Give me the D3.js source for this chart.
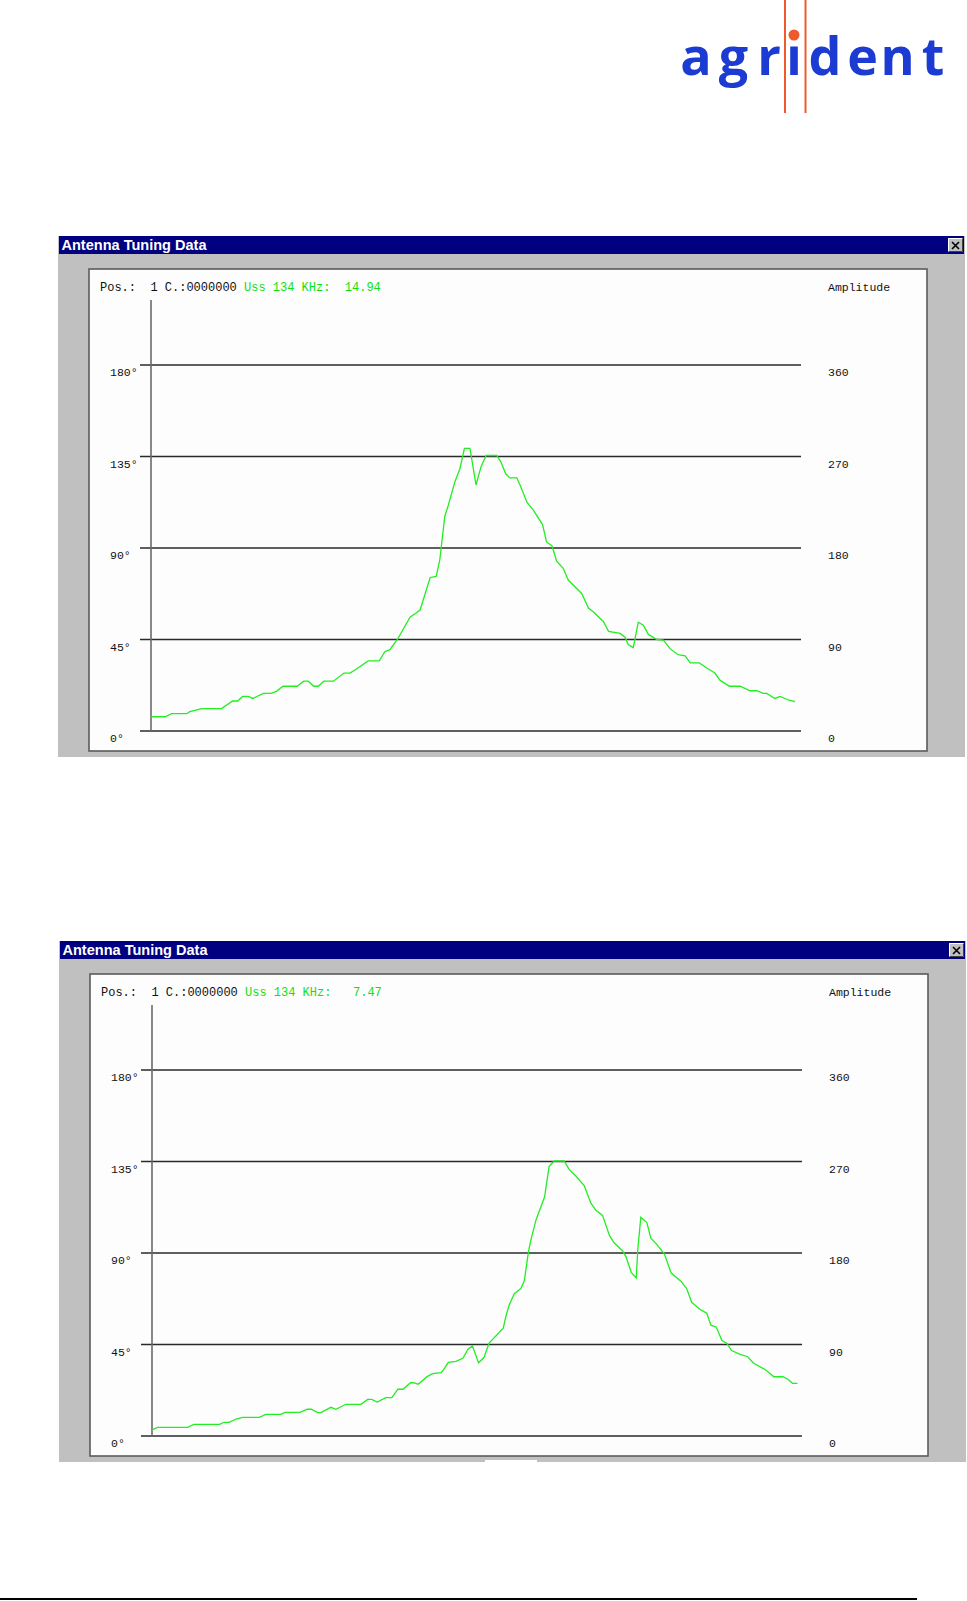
<!DOCTYPE html>
<html>
<head>
<meta charset="utf-8">
<script src="https://cdn.jsdelivr.net/npm/d3@7/dist/d3.min.js"></script>
<style>
  html, body { margin: 0; padding: 0; background: #ffffff; }
  svg { display: block; }
  .mono { font-family: "Liberation Mono", "DejaVu Sans Mono", monospace; white-space: pre; }
</style>
</head>
<body>
<svg id="page" width="967" height="1601"></svg>
<script>
// ---------------- DATA ----------------
// Sweep step (0..128) and amplitude (right axis units, 0..360)
const steps1 = [0,2.8,4.1,7.1,7.7,10.1,14.0,16.2,17.2,18.2,19.3,20.2,22.3,23.8,24.9,26.2,29.0,30.3,31.2,32.3,33.2,34.3,36.2,38.3,39.5,40.7,43.1,45.3,46.4,47.4,48.9,51.4,52.6,53.4,55.4,56.6,57.3,58.3,59.0,60.3,61.3,62.2,63.3,64.5,65.5,66.5,68.6,69.4,70.4,71.2,72.6,73.4,74.6,75.9,77.7,78.5,79.6,80.5,81.8,82.8,85.5,86.8,87.8,89.8,90.8,93.1,94.1,94.7,95.7,96.7,97.7,98.7,100.4,101.7,103.0,104.6,106.0,107.0,108.8,110.3,111.9,112.9,114.8,116.9,118.9,120.2,121.5,122.2,123.8,124.8,126.5,127.8];
const amp1   = [14,14,17,17,19,22,22,29.5,29.5,34,34,32,37,37,39,44,44,49,49,44,44,49,49,57,57,60.7,69,69,78,80,90,112,116,119,151,152,168,211,222,245,258,278,278,242,260,271,271,265,253,249,249,240,225,217,203,186,182,167,160,148.5,135,121,117,107.5,98,96,92,85,82,107,104,95,90,89.5,81,75,74,67,67,62,57,50,44,44,39.6,39.6,37,37,32,34,30.5,29];

const steps2 = [0,1.1,7.1,8.3,13.4,14.3,15.3,16.7,18.0,21.3,22.6,25.6,26.4,29.4,30.8,31.6,32.9,33.5,35.5,36.5,38.5,41.5,42.8,43.6,44.7,46.4,47.6,48.8,49.8,51.3,51.9,52.8,54.6,55.7,57.4,57.9,58.8,60.3,61.7,62.7,63.6,64.8,65.9,66.9,69.7,70.3,70.9,71.9,73.2,73.9,74.7,75.2,76.2,77.9,78.8,79.8,81.8,82.8,84.1,85.8,87.1,88.1,89.4,90.8,91.7,93.4,94.1,95.1,96.1,96.4,97.0,98.2,99.0,100.0,101.7,103.0,105.0,106.1,107.1,108.9,110.1,110.9,112.0,113.1,114.1,115.0,116.6,118.2,119.4,121.8,123.4,125.2,126.2,127.1,128.1];
const amp2   = [6,8.5,8.5,11.5,11.5,13.5,13.5,16.7,18.4,18.4,21.3,21.3,23.3,23.3,26.3,26.3,23,23,28.2,26.3,31.2,31.2,36,36,33.4,37.7,37.7,46,46,52.4,52.4,51,58.4,61.3,62.3,65.6,72.5,73.5,76.4,85.3,88.5,72,77.4,91.5,106,119,129,140,145,153,181,193,212.5,235,265,270.5,270.5,262,255.7,246,229,222,217,197,190,182,176,161,155.5,183,215,210,194.5,189.5,179,160.5,152,145,131.5,124,120.7,109,107,94,91,84,80.6,78,71.5,65,58.3,58.3,55.8,51.8,51.8];

const gridValues   = [0, 90, 180, 270, 360];
const leftLabels   = ["0°", "45°", "90°", "135°", "180°"];
const rightLabels  = ["0", "90", "180", "270", "360"];

const windowTitle  = "Antenna Tuning Data";
const headerPos    = ["Pos.:  1 C.:0000000", "Pos.:  1 C.:0000000"];
const headerUss    = ["Uss 134 KHz:  14.94", "Uss 134 KHz:   7.47"];
const rightTitle   = "Amplitude";
const logoLetters  = ["a","g","r","i","d","e","n","t"];

// ---------------- DRAW ----------------
const svg = d3.select("#page");

// Logo
(function drawLogo() {
  const blue = "#1b3bd2", orange = "#ee5a2c";
  const centers = [696, 733.5, 769, 794, 825, 862.5, 897.5, 933];
  const g = svg.append("g");
  g.append("line").attr("x1",785).attr("x2",785).attr("y1",0).attr("y2",113)
    .attr("stroke",orange).attr("stroke-width",2);
  g.append("line").attr("x1",805.5).attr("x2",805.5).attr("y1",0).attr("y2",113)
    .attr("stroke",orange).attr("stroke-width",2);
  logoLetters.forEach((ch, i) => {
    if (ch === "i") {
      g.append("rect").attr("x", centers[i]-3.8).attr("y",46.5).attr("width",7.6).attr("height",28.5).attr("fill",blue);
      g.append("circle").attr("cx", centers[i]).attr("cy",35).attr("r",5.5).attr("fill",orange);
    } else {
      g.append("text").attr("x", centers[i]).attr("y", 75)
        .attr("text-anchor","middle")
        .attr("font-family","'Open Sans', 'DejaVu Sans', sans-serif")
        .attr("font-weight", 700)
        .attr("font-size", 52)
        .attr("fill", blue)
        .text(ch);
    }
  });
})();

function drawWindow(idx, dx, dy, steps, amps) {
  const g = svg.append("g").attr("transform", `translate(${dx},${dy})`);
  // window body
  g.append("rect").attr("x",58).attr("y",236).attr("width",907).attr("height",521).attr("fill","#c0c0c0");
  // title bar
  g.append("rect").attr("x",59).attr("y",236).attr("width",905).attr("height",18).attr("fill","#000080");
  g.append("text").attr("x",61.5).attr("y",250)
    .attr("font-family","'Liberation Sans', Arial, sans-serif").attr("font-weight","bold")
    .attr("font-size",14).attr("fill","#ffffff")
    .attr("textLength",145).attr("lengthAdjust","spacingAndGlyphs")
    .text(windowTitle);
  // close button
  const cb = g.append("g");
  cb.append("rect").attr("x",948).attr("y",238).attr("width",15).attr("height",14).attr("fill","#c0c0c0");
  cb.append("path").attr("d","M948.5,251.5 V238.5 H962.5").attr("stroke","#ffffff").attr("fill","none");
  cb.append("path").attr("d","M948.5,251.5 H962.5 V238.5").attr("stroke","#404040").attr("fill","none");
  cb.append("path").attr("d","M952,242 L959,249 M959,242 L952,249").attr("stroke","#000").attr("stroke-width",1.6);
  // plot frame
  g.append("rect").attr("x",89).attr("y",269).attr("width",838).attr("height",482)
    .attr("fill","#fdfdfd").attr("stroke","#5a5a5a").attr("stroke-width",1.6);

  const x = d3.scaleLinear().domain([0,128]).range([151,796]);
  const y = d3.scaleLinear().domain([0,360]).range([731,365]);

  // gridlines
  g.selectAll("line.grid").data(gridValues).join("line").attr("class","grid")
    .attr("x1",140).attr("x2",801)
    .attr("y1",d=>y(d)).attr("y2",d=>y(d))
    .attr("stroke","#2a2a2a").attr("stroke-width",1.4);
  // vertical axis
  g.append("line").attr("x1",x(0)).attr("x2",x(0)).attr("y1",300).attr("y2",y(0))
    .attr("stroke","#6a6a6a").attr("stroke-width",1.6);

  // labels
  g.selectAll("text.lt").data(gridValues).join("text").attr("class","lt mono")
    .attr("x",110).attr("y",d=>y(d)+11).attr("font-size",11.5).attr("fill","#111")
    .text((d,i)=>leftLabels[i]);
  g.selectAll("text.rt").data(gridValues).join("text").attr("class","rt mono")
    .attr("x",828).attr("y",d=>y(d)+11).attr("font-size",11.5).attr("fill","#111")
    .text((d,i)=>rightLabels[i]);
  g.append("text").attr("class","mono").attr("x",828).attr("y",291).attr("font-size",11.5).attr("fill","#111").text(rightTitle);

  // header
  g.append("text").attr("class","mono").attr("x",100).attr("y",291).attr("font-size",12).attr("fill","#111").text(headerPos[idx]);
  g.append("text").attr("class","mono").attr("x",100+20*7.2).attr("y",291).attr("font-size",12).attr("fill","#10e010").text(headerUss[idx]);

  // curve
  const pts = steps.map((s,i)=>[s, amps[i]]);
  g.append("path").datum(pts)
    .attr("d", d3.line().x(d=>x(d[0])).y(d=>y(d[1])))
    .attr("fill","none").attr("stroke","#22ee22").attr("stroke-width",1.3);
  return g;
}

drawWindow(0, 0, 0, steps1, amp1);
const g2 = drawWindow(1, 1, 705, steps2, amp2);
// small white patch under second window
g2.append("rect").attr("x",484).attr("y",755).attr("width",52).attr("height",3).attr("fill","#ffffff");

// footer rule
svg.append("line").attr("x1",0).attr("x2",917).attr("y1",1599).attr("y2",1599)
  .attr("stroke","#000").attr("stroke-width",2);
</script>
</body>
</html>
